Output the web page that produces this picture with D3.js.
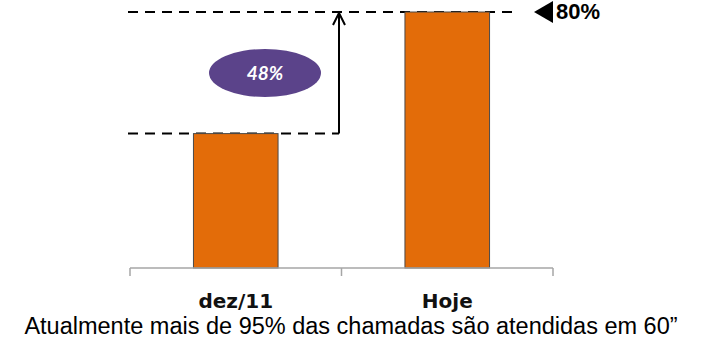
<!DOCTYPE html>
<html>
<head>
<meta charset="utf-8">
<script src="https://cdn.jsdelivr.net/npm/d3@7"></script>
<style>
  html, body { margin: 0; padding: 0; background: #fff; }
  svg { display: block; }
</style>
</head>
<body>
<svg id="chart" width="701" height="339"></svg>
<script>
// Service level: share of calls answered in time
const categories = ["dez/11", "Hoje"];
const values = [42, 80];
const targetValue = 80;
const targetLabel = "80%";
const gainLabel = "48%";
const caption = "Atualmente mais de 95% das chamadas são atendidas em 60”";

const svg = d3.select("#chart");

const x = d3.scaleBand()
  .domain(categories)
  .range([130, 553])
  .paddingInner(0.6)
  .paddingOuter(0.3);

const y = d3.scaleLinear()
  .domain([0, 80])
  .range([268, 12]);

// Reference dashed lines at the start level and the target level
const dash = "10,7";
svg.append("line")
  .attr("x1", 128).attr("x2", 339)
  .attr("y1", y(values[0])).attr("y2", y(values[0]))
  .attr("stroke", "#000").attr("stroke-width", 2)
  .attr("stroke-dasharray", dash);

svg.append("line")
  .attr("x1", 128).attr("x2", 518)
  .attr("y1", y(targetValue)).attr("y2", y(targetValue))
  .attr("stroke", "#000").attr("stroke-width", 2)
  .attr("stroke-dasharray", dash);

// Bars
svg.selectAll("rect.bar")
  .data(categories)
  .join("rect")
  .attr("class", "bar")
  .attr("x", d => x(d))
  .attr("width", x.bandwidth())
  .attr("y", (d, i) => y(values[i]))
  .attr("height", (d, i) => y(0) - y(values[i]))
  .attr("fill", "#e36c09")
  .attr("stroke", "#4a4a4a")
  .attr("stroke-width", 1);

// Axis line with tick marks at band edges
const axisY = y(0);
svg.append("line")
  .attr("x1", 130).attr("x2", 553)
  .attr("y1", axisY).attr("y2", axisY)
  .attr("stroke", "#a6a6a6").attr("stroke-width", 1.5);
const edges = [130, (x(categories[0]) + x.bandwidth() + x(categories[1])) / 2, 553];
svg.selectAll("line.tick")
  .data(edges)
  .join("line")
  .attr("class", "tick")
  .attr("x1", d => d).attr("x2", d => d)
  .attr("y1", axisY).attr("y2", axisY + 8)
  .attr("stroke", "#a6a6a6").attr("stroke-width", 1.5);

// Category labels
svg.selectAll("text.cat")
  .data(categories)
  .join("text")
  .attr("class", "cat")
  .attr("x", d => x(d) + x.bandwidth() / 2)
  .attr("y", 307.5)
  .attr("text-anchor", "middle")
  .attr("font-family", "DejaVu Sans, Verdana, sans-serif")
  .attr("font-weight", "bold")
  .attr("font-size", 20)
  .attr("fill", "#111")
  .text(d => d);

// Vertical arrow from start level up to target
const ax = 339;
const ty = y(targetValue);
svg.append("line")
  .attr("x1", ax).attr("x2", ax)
  .attr("y1", y(values[0])).attr("y2", ty + 1)
  .attr("stroke", "#000").attr("stroke-width", 2);
svg.append("path")
  .attr("d", `M${ax - 6},${ty + 13} L${ax},${ty + 1} L${ax + 6},${ty + 13}`)
  .attr("fill", "none").attr("stroke", "#000").attr("stroke-width", 2);

// Gain bubble
svg.append("ellipse")
  .attr("cx", 265).attr("cy", 73)
  .attr("rx", 56).attr("ry", 24)
  .attr("fill", "#5b438a");
svg.append("text")
  .attr("x", 265).attr("y", 80)
  .attr("text-anchor", "middle")
  .attr("font-family", "Lato, 'Noto Sans', sans-serif")
  .attr("font-weight", "bold")
  .attr("font-style", "italic")
  .attr("font-size", 19)
  .attr("fill", "#fff")
  .text(gainLabel);

// Target marker and label
svg.append("path")
  .attr("d", `M534,${ty} L553,${ty - 11} L553,${ty + 11} Z`)
  .attr("fill", "#000");
svg.append("text")
  .attr("x", 556).attr("y", ty + 7)
  .attr("font-family", "Liberation Sans, Arial, sans-serif")
  .attr("font-weight", "bold")
  .attr("font-size", 22)
  .attr("fill", "#000")
  .text(targetLabel);

// Caption
svg.append("text")
  .attr("x", 351).attr("y", 334)
  .attr("text-anchor", "middle")
  .attr("font-family", "Liberation Sans, Arial, sans-serif")
  .attr("font-size", 23.5)
  .attr("fill", "#000")
  .text(caption);
</script>
</body>
</html>
